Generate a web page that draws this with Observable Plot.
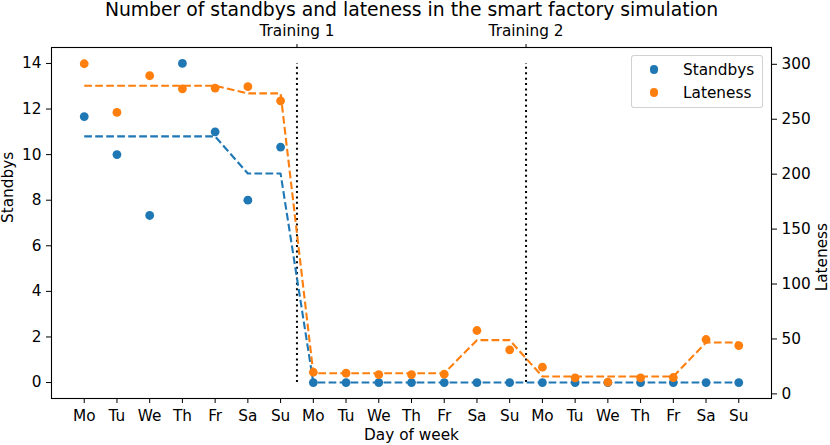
<!DOCTYPE html>
<html>
<head>
<meta charset="utf-8">
<script src="https://cdn.jsdelivr.net/npm/d3@7"></script>
<script src="https://cdn.jsdelivr.net/npm/@observablehq/plot@0.6"></script>
<style>
  html, body { margin: 0; padding: 0; background: white; }
  #wrap { position: relative; width: 830px; height: 445px; font-family: "DejaVu Sans", sans-serif; }
  #legend { position: absolute; left: 631px; top: 55px; width: 132px; height: 53px;
    border: 1px solid rgba(204,204,204,0.9); border-radius: 3px; background: rgba(255,255,255,0.8);
    font-size: 15.3px; color: black; box-sizing: border-box; }
  .item { position: absolute; left: 0; height: 20px; line-height: 20px; }
  .dot { position: absolute; left: 17.5px; top: 5.4px; width: 8.6px; height: 8.6px; border-radius: 50%; }
  .lab { position: absolute; left: 51px; top: 0; white-space: nowrap; }
</style>
</head>
<body>
<div id="wrap">
  <div id="chart"></div>
  <div id="legend"></div>
</div>
<script>
const days = ["Mo","Tu","We","Th","Fr","Sa","Su","Mo","Tu","We","Th","Fr","Sa","Su","Mo","Tu","We","Th","Fr","Sa","Su"];
const standbys = [11.67,10,7.33,14,11,8,10.33, 0,0,0,0,0,0,0, 0,0,0,0,0,0,0];
const standbyTrend = [10.8,10.8,10.8,10.8,10.8,9.17,9.17, 0,0,0,0,0,0,0, 0,0,0,0,0,0,0];
const lateness = [300.5,256.2,289.6,277.7,278.4,279.6,266.8, 19.7,18.8,17.6,17.6,17.9,57.7,40.1, 24.3,14.6,10.6,14.6,14.9,49.5,44.0];
const latenessTrend = [280.5,280.5,280.5,280.5,280.5,273.5,273.5, 18.8,18.8,18.8,18.8,18.8,48.9,48.9, 15.8,15.8,15.8,15.8,15.8,46.8,46.8];
const leftTicks = [0,2,4,6,8,10,12,14];
const rightTicks = [0,50,100,150,200,250,300];
const trainingPos = [6.5, 13.5];
const trainingLabels = ["Training 1", "Training 2"];
const trainingSpan = [0, 14];
const seriesNames = ["Standbys", "Lateness"];
const colors = ["#1f77b4", "#ff7f0e"];
const title = "Number of standbys and lateness in the smart factory simulation";

const leftDomain = [-0.7, 14.7];
const rightDomain = [-4.2, 315.3];
const toLeft = r => leftDomain[0] + (r - rightDomain[0]) * (leftDomain[1] - leftDomain[0]) / (rightDomain[1] - rightDomain[0]);
const fromLeft = l => rightDomain[0] + (l - leftDomain[0]) * (rightDomain[1] - rightDomain[0]) / (leftDomain[1] - leftDomain[0]);

const data = days.map((d, i) => ({
  i, day: d,
  s: standbys[i], st: standbyTrend[i],
  l: toLeft(lateness[i]), lt: toLeft(latenessTrend[i])
}));

const fs = 15.3;
const chart = Plot.plot({
  width: 830, height: 445,
  marginLeft: 51, marginRight: 59, marginTop: 47, marginBottom: 47,
  x: {domain: [-1, 21], label: null},
  y: {domain: leftDomain, label: null},
  style: {fontFamily: "DejaVu Sans", fontSize: fs + "px", background: "white", color: "black", overflow: "visible"},
  marks: [
    Plot.ruleX(trainingPos, {x: d => d, y1: trainingSpan[0], y2: trainingSpan[1], stroke: "black", strokeWidth: 2, strokeDasharray: "2,3.4"}),
    Plot.line(data, {x: "i", y: "st", stroke: colors[0], strokeWidth: 2.1, strokeDasharray: "7.7,3.3", strokeLinecap: "butt"}),
    Plot.dot(data, {x: "i", y: "s", r: 4.4, fill: colors[0]}),
    Plot.line(data, {x: "i", y: "lt", stroke: colors[1], strokeWidth: 2.1, strokeDasharray: "7.7,3.3", strokeLinecap: "butt"}),
    Plot.dot(data, {x: "i", y: "l", r: 4.4, fill: colors[1]}),
    Plot.frame({stroke: "black", strokeWidth: 1.1}),
    Plot.axisX({anchor: "bottom", ticks: data.map(d => d.i), tickFormat: i => days[i], tickSize: 5, tickPadding: 7, label: null, fontSize: fs}),
    Plot.axisX({anchor: "top", ticks: trainingPos, tickFormat: () => "", tickSize: 4, label: null}),
    Plot.axisY({anchor: "left", ticks: leftTicks, tickSize: 5, tickPadding: 5, label: null, fontSize: fs}),
    Plot.axisY({anchor: "right", ticks: rightTicks.map(toLeft), tickFormat: v => String(Math.round(fromLeft(v))), tickSize: 5, tickPadding: 5, label: null, fontSize: fs}),
    Plot.text(trainingPos, {x: d => d, text: (d, i) => trainingLabels[i], frameAnchor: "top", lineAnchor: "middle", dy: -16.2, fontSize: fs}),
    Plot.text([title], {text: d => d, frameAnchor: "top", lineAnchor: "middle", dy: -37.9, fontSize: 18.8}),
    Plot.text(["Day of week"], {text: d => d, frameAnchor: "bottom", lineAnchor: "middle", dy: 36.4, fontSize: fs}),
    Plot.text(["Standbys"], {text: d => d, frameAnchor: "left", lineAnchor: "middle", dx: -43, rotate: -90, fontSize: fs}),
    Plot.text(["Lateness"], {text: d => d, frameAnchor: "right", lineAnchor: "middle", dx: 50.5, rotate: -90, fontSize: fs})
  ]
});
document.getElementById("chart").appendChild(chart);

const legend = document.getElementById("legend");
seriesNames.forEach((name, k) => {
  const item = document.createElement("div");
  item.className = "item";
  item.style.top = (3.6 + k * 23.4) + "px";
  item.style.width = "100%";
  const dot = document.createElement("span");
  dot.className = "dot";
  dot.style.background = colors[k];
  const lab = document.createElement("span");
  lab.className = "lab";
  lab.textContent = name;
  item.appendChild(dot); item.appendChild(lab);
  legend.appendChild(item);
});
</script>
</body>
</html>
